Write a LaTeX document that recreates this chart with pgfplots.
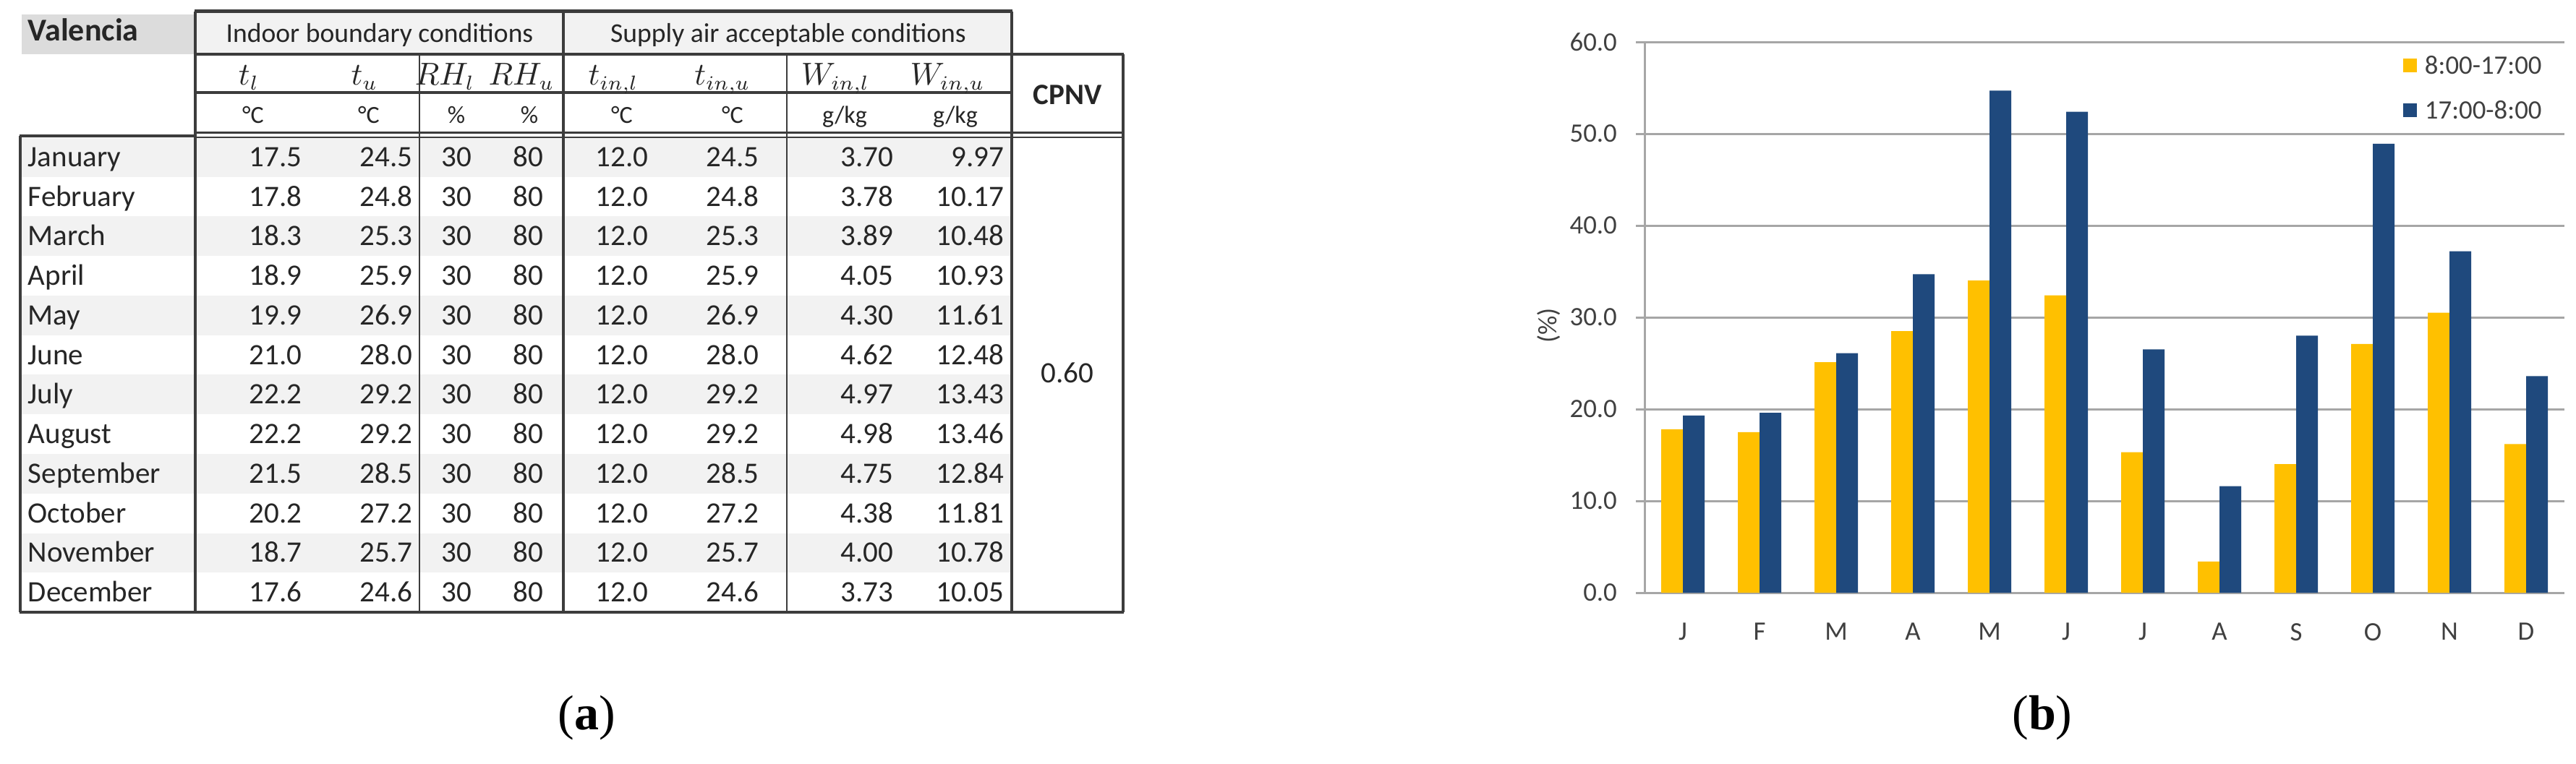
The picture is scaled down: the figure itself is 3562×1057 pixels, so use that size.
\documentclass[border=0pt]{standalone}
\usepackage{fontspec}
\setmainfont{Carlito}
\newfontfamily\serifcap{Liberation Serif}
\usepackage{pgfplots}
\pgfplotsset{compat=1.18}
\definecolor{gold}{HTML}{FFC000}
\definecolor{navy}{HTML}{1F497D}
\definecolor{gridc}{HTML}{A6A6A6}
\definecolor{txt}{HTML}{404040}
\definecolor{tline}{HTML}{3C3C3C}
\definecolor{band}{HTML}{F2F2F2}
\definecolor{vband}{HTML}{DCDCDC}
\newcommand\tabf{\fontsize{10.25}{12}\selectfont}
\newcommand\headf{\fontsize{9.4}{11}\selectfont}
\newcommand\unitf{\fontsize{8.5}{10}\selectfont}
\newcommand\chartf{\fontsize{9.2}{11}\selectfont}

\begin{document}
\begin{tikzpicture}[x=0.25pt,y=-0.25pt]
\path[use as bounding box] (0,0) rectangle (3562,1057);

% ---- (a) table: shading
\fill[vband] (30,20) rectangle (270,75);
\fill[band] (270,17) rectangle (1399,75);
\foreach \i in {0,2,...,10}
  \fill[band] (28,{190+54.75*\i}) rectangle (1399,{190+54.75*(\i+1)});

% ---- table rules
\draw[tline, line width=1.25pt] (269,16) -- (1400,16);
\draw[tline, line width=1pt] (270,75) -- (1554,75);
\draw[tline, line width=1pt] (270,128) -- (1399,128);
\draw[tline, line width=0.7pt] (270,183.5) -- (1554,183.5);
\draw[tline, line width=0.7pt] (270,190) -- (1554,190);
\draw[tline, line width=1pt] (27,188) -- (270,188);
\draw[tline, line width=1pt] (27,847) -- (1554,847);
\draw[tline, line width=1.1pt] (270,16) -- (270,847);
\draw[tline, line width=1pt] (28,188) -- (28,847);
\draw[tline, line width=0.6pt] (580,75) -- (580,847);
\draw[tline, line width=0.8pt] (779,16) -- (779,847);
\draw[tline, line width=0.6pt] (1088,75) -- (1088,847);
\draw[tline, line width=0.8pt] (1399,16) -- (1399,847);
\draw[tline, line width=0.8pt] (1553,75) -- (1553,847);

% ---- table header
\begin{scope}[every node/.style={inner sep=0pt, text=black!85}]
\node[anchor=base west, font=\bfseries\fontsize{11}{13}\selectfont] at (38,57) {Valencia};
\node[anchor=base, font=\headf] at (525,59) {Indoor boundary conditions};
\node[anchor=base, font=\headf] at (1090,59) {Supply air acceptable conditions};
\node[anchor=base, font=\bfseries\tabf] at (1476,145) {CPNV};
\foreach \x/\s in {344/t_l, 504/t_u, 615/RH_l, 721/RH_u, 848/t_{in,l}, 999/t_{in,u}, 1155/W_{in,l}, 1310/W_{in,u}}
  \node[anchor=base, font=\fontsize{10.5}{12}\selectfont] at (\x,118) {$\s$};
\foreach \x/\u in {350/{°C}, 510/{°C}, 631/{\%}, 732/{\%}, 860/{°C}, 1013/{°C}, 1168/{g/kg}, 1321/{g/kg}}
  \node[anchor=base, font=\unitf] at (\x,171) {\u};

% ---- table body
\foreach \m/\a/\b/\c/\d [count=\i from 0] in {
  January/17.5/24.5/3.70/9.97, February/17.8/24.8/3.78/10.17,
  March/18.3/25.3/3.89/10.48, April/18.9/25.9/4.05/10.93,
  May/19.9/26.9/4.30/11.61, June/21.0/28.0/4.62/12.48,
  July/22.2/29.2/4.97/13.43, August/22.2/29.2/4.98/13.46,
  September/21.5/28.5/4.75/12.84, October/20.2/27.2/4.38/11.81,
  November/18.7/25.7/4.00/10.78, December/17.6/24.6/3.73/10.05}{
  \pgfmathsetmacro\yb{230.4+54.75*\i}
  \node[anchor=base west, font=\tabf] at (38,\yb) {\m};
  \node[anchor=base east, font=\tabf] at (418,\yb) {\a};
  \node[anchor=base east, font=\tabf] at (571,\yb) {\b};
  \node[anchor=base, font=\tabf] at (631,\yb) {30};
  \node[anchor=base, font=\tabf] at (730,\yb) {80};
  \node[anchor=base, font=\tabf] at (860,\yb) {12.0};
  \node[anchor=base east, font=\tabf] at (1050,\yb) {\b};
  \node[anchor=base east, font=\tabf] at (1236,\yb) {\c};
  \node[anchor=base east, font=\tabf] at (1389,\yb) {\d};
}
\node[anchor=base, font=\tabf] at (1476,530) {0.60};
\end{scope}

% ---- sub-figure captions
\node[font=\serifcap\fontsize{17}{20}\selectfont] at (811,993) {(\textbf{a})};
\node[font=\serifcap\fontsize{17}{20}\selectfont] at (2824,993) {(\textbf{b})};

% ---- (b) bar chart
\coordinate (ax) at (2274,820);
\begin{axis}[at={(ax)}, anchor=south west, scale only axis,
  width=318pt, height=190.5pt,
  ymin=0, ymax=60, ytick={0,10,...,60},
  xmin=-0.5, xmax=11.5, xtick={0,...,11},
  xticklabels={J,F,M,A,M,J,J,A,S,O,N,D},
  ybar=0pt, bar width=7.5pt,
  axis lines=left, axis line style={-, draw=gridc, line width=0.75pt},
  ymajorgrids, grid style={draw=gridc, line width=0.75pt},
  tick align=outside, major tick length=3pt,
  ytick style={draw=gridc, line width=0.75pt}, xtick style={draw=none},
  yticklabel style={font=\chartf, text=txt, xshift=-3pt,
    /pgf/number format/fixed, /pgf/number format/fixed zerofill,
    /pgf/number format/precision=1, /pgf/number format/assume math mode=true},
  xticklabel style={font=\chartf, text=txt, yshift=-4pt},
  ylabel={(\%)},
  every axis y label/.style={at={(rel axis cs:0,0.485)}, xshift=-29pt, rotate=90,
    anchor=south, inner sep=0pt, font=\chartf, text=txt},
  legend image code/.code={\fill[#1] (0pt,-2.4pt) rectangle (4.75pt,2.4pt);},
  legend style={draw=none, fill=none, at={(rel axis cs:0.824,0.917)}, anchor=west,
    inner sep=0pt, font=\chartf, text=txt, row sep=9.5pt,
    nodes={inner sep=0pt, text height=6pt, text depth=0pt}},
  legend cell align=left,
]
\addplot[fill=gold, draw=none] coordinates {(0,17.8) (1,17.5) (2,25.1) (3,28.5) (4,34.0) (5,32.4) (6,15.3) (7,3.4) (8,14.0) (9,27.1) (10,30.5) (11,16.2)};
\addplot[fill=navy, draw=none] coordinates {(0,19.3) (1,19.6) (2,26.1) (3,34.7) (4,54.7) (5,52.4) (6,26.5) (7,11.6) (8,28.0) (9,48.9) (10,37.2) (11,23.6)};
\legend{\hspace{2.75pt}8:00-17:00, \hspace{2.75pt}17:00-8:00}
\end{axis}
\end{tikzpicture}
\end{document}
